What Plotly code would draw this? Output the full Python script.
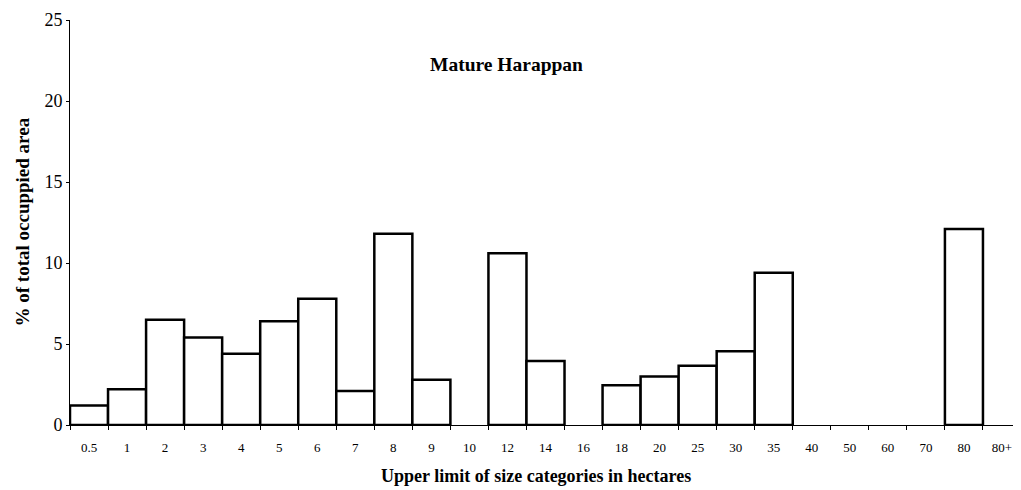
import plotly.graph_objects as go

# size categories (upper limit, hectares) and % of total occupied area
categories = ["0.5", "1", "2", "3", "4", "5", "6", "7", "8", "9", "10", "12", "14",
              "16", "18", "20", "25", "30", "35", "40", "50", "60", "70", "80", "80+"]
pct_area = [1.2, 2.2, 6.5, 5.4, 4.4, 6.4, 7.8, 2.1, 11.8, 2.8, None, 10.6, 3.95,
            None, 2.45, 3.0, 3.65, 4.55, 9.4, None, None, None, None, 12.1, None]
y_ticks = [0, 5, 10, 15, 20, 25]

serif = "Liberation Serif, Times New Roman, serif"

fig = go.Figure()
fig.add_trace(go.Bar(x=categories, y=pct_area, width=1,
                     marker=dict(color="white", line=dict(color="black", width=2.5))))

# page body has an 8px margin, so size the figure to fill the rest of the window
fig.update_layout(
    width=1013, height=482,
    margin=dict(l=62, r=0, t=12, b=65),
    paper_bgcolor="white", plot_bgcolor="white",
    showlegend=False,
    font=dict(family=serif, color="black"),
)
fig.update_xaxes(type="category", tickson="boundaries", ticks="outside", ticklen=4,
                 tickcolor="black", showline=True, linecolor="black", linewidth=1,
                 showgrid=False, tickfont=dict(size=13, family=serif),
                 ticklabelstandoff=10, range=[-0.5, 24.5], automargin=False)
fig.update_yaxes(range=[0, 25], tickvals=y_ticks, ticks="outside", ticklen=3,
                 tickcolor="black", showline=True, linecolor="black", linewidth=1,
                 showgrid=False, zeroline=False, tickfont=dict(size=18, family=serif),
                 automargin=False)

fig.add_annotation(text="<b>Mature Harappan</b>", x=0.459, y=0.921, xref="paper", yref="paper",
                   showarrow=False, font=dict(size=19.5, family=serif))
fig.add_annotation(text="<b>Upper limit of size categories in hectares</b>", x=0.49,
                   y=0, yref="paper", xref="paper", yanchor="middle", yshift=-51,
                   showarrow=False, font=dict(size=18, family=serif))
fig.add_annotation(text="<b>% of total occuppied area</b>", textangle=-90, x=0, xref="paper",
                   xanchor="center", xshift=-48, y=0.5, yref="paper", showarrow=False,
                   font=dict(size=19, family=serif))

fig.write_html("out.html")
